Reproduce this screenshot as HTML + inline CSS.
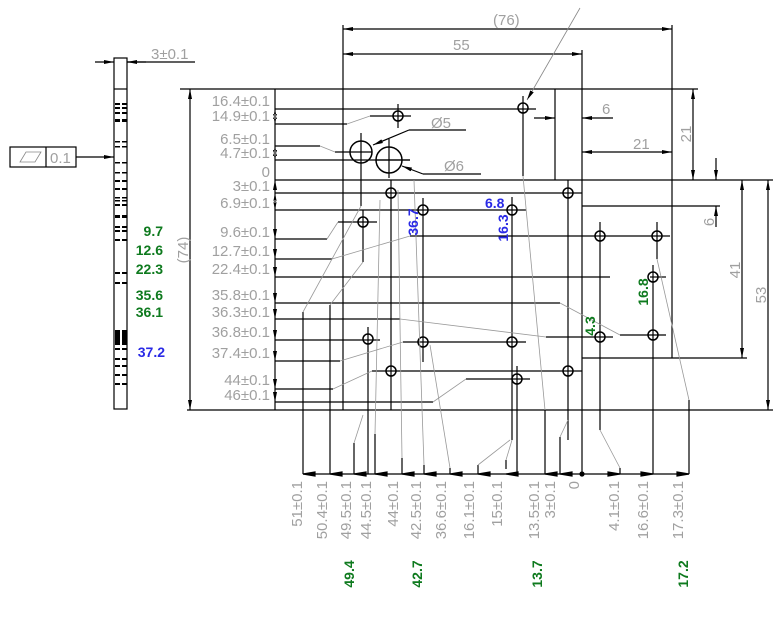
<!DOCTYPE html>
<html><head><meta charset="utf-8"><style>
html,body{margin:0;padding:0;background:#fff;width:783px;height:637px;overflow:hidden}
svg{display:block}
.g{fill:#a0a0a0;font-family:"Liberation Sans",sans-serif;font-size:15px}
.gr{fill:#0e7a1e;font-family:"Liberation Sans",sans-serif;font-size:14px;font-weight:bold}
.bl{fill:#2a2ae6;font-family:"Liberation Sans",sans-serif;font-size:14px;font-weight:bold}
</style></head><body>
<svg width="783" height="637" viewBox="0 0 783 637" xmlns="http://www.w3.org/2000/svg">
<defs>
<marker id="a" viewBox="0 0 10 4" refX="10" refY="2" markerWidth="10" markerHeight="4" orient="auto-start-reverse" markerUnits="userSpaceOnUse"><path d="M0,0L10,2L0,4z" fill="#000"/></marker>
</defs>
<g stroke="#000" stroke-width="1.2" fill="none">
<line x1="180" y1="89" x2="698" y2="89"/>
<line x1="275" y1="180" x2="773" y2="180"/>
<line x1="187" y1="410" x2="773" y2="410"/>
<line x1="343" y1="25" x2="343" y2="410"/>
<line x1="555" y1="89" x2="555" y2="180"/>
<line x1="582" y1="50" x2="582" y2="474"/>
<line x1="672" y1="25" x2="672" y2="358"/>
<line x1="582" y1="206" x2="720" y2="206"/>
<line x1="582" y1="358" x2="747" y2="358"/>
<line x1="343" y1="29" x2="672" y2="29" marker-start="url(#a)" marker-end="url(#a)"/>
<line x1="343" y1="54" x2="582" y2="54" marker-start="url(#a)" marker-end="url(#a)"/>
<line x1="582" y1="152" x2="672" y2="152" marker-start="url(#a)" marker-end="url(#a)"/>
<line x1="693" y1="89" x2="693" y2="180" marker-start="url(#a)" marker-end="url(#a)"/>
<line x1="534" y1="118" x2="555" y2="118" marker-end="url(#a)"/>
<line x1="613" y1="118" x2="582" y2="118" marker-end="url(#a)"/>
<line x1="716" y1="158" x2="716" y2="180" marker-end="url(#a)"/>
<line x1="716" y1="227" x2="716" y2="206" marker-end="url(#a)"/>
<line x1="742" y1="180" x2="742" y2="358" marker-start="url(#a)" marker-end="url(#a)"/>
<line x1="768" y1="180" x2="768" y2="410" marker-start="url(#a)" marker-end="url(#a)"/>
<line x1="190" y1="89" x2="190" y2="410" marker-start="url(#a)" marker-end="url(#a)"/>
<line x1="275" y1="89" x2="275" y2="410"/>
<path d="M275,109l-2,10h4zM275,124l-2,-10h4zM275,160l-2,-10h4zM275,180l-2,10h4zM275,193l-2,10h4zM275,210l-2,-10h4zM275,239l-2,-10h4zM275,259l-2,-10h4zM275,277l-2,-10h4zM275,303l-2,-10h4zM275,319l-2,-10h4zM275,340l-2,-10h4zM275,361l-2,-10h4zM275,389l-2,-10h4zM275,402l-2,-10h4zM275,146l-2,10h4z" fill="#000" stroke="none"/>
<line x1="275" y1="109" x2="536" y2="109"/>
<line x1="275" y1="124" x2="347" y2="124"/><line x1="370" y1="116" x2="411" y2="116"/>
<line x1="275" y1="146" x2="320" y2="146"/><line x1="335" y1="152" x2="372" y2="152"/>
<line x1="275" y1="160" x2="410" y2="160"/>
<line x1="275" y1="193" x2="582" y2="193"/>
<line x1="275" y1="210" x2="526" y2="210"/>
<line x1="275" y1="239" x2="327" y2="239"/><line x1="338" y1="222" x2="377" y2="222"/>
<line x1="275" y1="259" x2="332" y2="259"/><line x1="410" y1="236" x2="670" y2="236"/>
<line x1="275" y1="277" x2="610" y2="277"/><line x1="650" y1="277" x2="666" y2="277"/>
<line x1="275" y1="303" x2="560" y2="303"/><line x1="620" y1="335" x2="666" y2="335"/>
<line x1="275" y1="319" x2="400" y2="319"/><line x1="546" y1="337" x2="613" y2="337"/>
<line x1="275" y1="340" x2="380" y2="340"/>
<line x1="275" y1="361" x2="340" y2="361"/><line x1="403" y1="342" x2="526" y2="342"/>
<line x1="275" y1="389" x2="333" y2="389"/><line x1="372" y1="371" x2="582" y2="371"/>
<line x1="275" y1="402" x2="433" y2="402"/><line x1="466" y1="379" x2="530" y2="379"/>
<line x1="398" y1="104" x2="398" y2="128"/>
<line x1="523" y1="96" x2="523" y2="176"/>
<line x1="361" y1="133" x2="361" y2="206"/>
<line x1="389" y1="139" x2="389" y2="178"/>
<line x1="391" y1="180" x2="391" y2="410"/>
<line x1="568" y1="180" x2="568" y2="440"/>
<line x1="423" y1="198" x2="423" y2="362"/>
<line x1="512" y1="197" x2="512" y2="440"/>
<line x1="363" y1="210" x2="363" y2="262"/>
<line x1="600" y1="222" x2="600" y2="430"/>
<line x1="657" y1="222" x2="657" y2="259"/>
<line x1="653" y1="265" x2="653" y2="474"/>
<line x1="368" y1="327" x2="368" y2="474"/>
<line x1="517" y1="366" x2="517" y2="474"/>
<line x1="303" y1="312" x2="303" y2="474"/>
<line x1="330" y1="305" x2="330" y2="474"/>
<line x1="689" y1="400" x2="689" y2="474"/>
<line x1="545" y1="410" x2="545" y2="474"/>
<line x1="560" y1="437" x2="560" y2="474"/>
<line x1="620" y1="468" x2="620" y2="474"/>
<path d="M354,443v31M375,434v40M402,458v16M424,465v9M450,468v6M478,465v9M506,460v9"/>
<line x1="303" y1="474" x2="689" y2="474"/>
<path d="M303,474l12,-2v4zM330,474l12,-2v4zM354,474l12,-2v4zM375,474l12,-2v4zM402,474l12,-2v4zM424,474l12,-2v4zM450,474l12,-2v4zM478,474l12,-2v4zM506,474l12,-2v4zM545,474l12,-2v4zM560,474l12,-2v4zM620,474l-12,-2v4zM653,474l-12,-2v4zM689,474l-12,-2v4z" fill="#000"/>
<circle cx="582" cy="474" r="2" fill="#000"/>
<g stroke-width="1.5">
<circle cx="398" cy="116" r="5"/><circle cx="523" cy="108" r="5"/>
<circle cx="391" cy="193" r="5"/><circle cx="568" cy="193" r="5"/>
<circle cx="423" cy="210" r="5"/><circle cx="512" cy="210" r="5"/>
<circle cx="363" cy="222" r="5"/><circle cx="600" cy="236" r="5"/>
<circle cx="657" cy="236" r="5"/><circle cx="653" cy="277" r="5"/>
<circle cx="600" cy="337" r="5"/><circle cx="653" cy="335" r="5"/>
<circle cx="368" cy="339" r="5"/><circle cx="423" cy="342" r="5"/>
<circle cx="512" cy="342" r="5"/><circle cx="391" cy="371" r="5"/>
<circle cx="568" cy="371" r="5"/><circle cx="517" cy="379" r="5"/>
<circle cx="361" cy="152" r="11"/><circle cx="389" cy="160" r="13"/>
</g>
<line x1="376" y1="160" x2="410" y2="160"/>
<line x1="373" y1="145" x2="409" y2="130" marker-start="url(#a)"/>
<line x1="409" y1="130" x2="466" y2="130"/>
<line x1="402" y1="166" x2="423" y2="174" marker-start="url(#a)"/>
<line x1="423" y1="174" x2="481" y2="174"/>
<line x1="527" y1="100" x2="580" y2="8" stroke="#888" stroke-width="0.8" marker-start="url(#a)"/>
<rect x="114" y="58" width="13" height="351"/>
<line x1="114" y1="89" x2="127" y2="89"/>
<line x1="95" y1="62" x2="114" y2="62" marker-end="url(#a)"/>
<line x1="146" y1="62" x2="127" y2="62" marker-end="url(#a)"/>
<line x1="127" y1="62" x2="195" y2="62"/>
<rect x="10" y="147" width="66" height="20"/>
<line x1="46" y1="147" x2="46" y2="167"/>
<line x1="76" y1="157" x2="114" y2="157" marker-end="url(#a)"/>
</g>
<path d="M20,162l6,-10h15l-6,10z" fill="none" stroke="#888" stroke-width="0.8"/>
<g fill="#000">
<path d="M115,103h5v2h-5zM122,103h5v2h-5zM115,107h5v2h-5zM122,107h5v2h-5zM115,112h5v2h-5zM122,112h5v2h-5zM115,119h5v3h-5zM122,119h5v3h-5zM115,141h5v1.5h-5zM122,141h5v1.5h-5zM115,146h5v1.5h-5zM122,146h5v1.5h-5zM115,162h5v1.5h-5zM122,162h5v1.5h-5zM115,172h5v1.5h-5zM122,172h5v1.5h-5zM115,180h5v2h-5zM122,180h5v2h-5zM115,188h5v2h-5zM122,188h5v2h-5zM115,197h5v1.5h-5zM122,197h5v1.5h-5zM115,200h5v1.5h-5zM122,200h5v1.5h-5zM115,204h5v2h-5zM122,204h5v2h-5zM115,215h5v3h-5zM122,215h5v3h-5zM115,226h5v2h-5zM122,226h5v2h-5zM115,230h5v2h-5zM122,230h5v2h-5zM115,239h5v2h-5zM122,239h5v2h-5zM115,272h5v2h-5zM122,272h5v2h-5zM115,282h5v2h-5zM122,282h5v2h-5zM115,330h5v15h-5zM122,330h5v15h-5zM115,348h5v2h-5zM122,348h5v2h-5zM115,358h5v2h-5zM122,358h5v2h-5zM115,365h5v2h-5zM122,365h5v2h-5zM115,374h5v2h-5zM122,374h5v2h-5zM115,383h5v2h-5zM122,383h5v2h-5z"/>
</g>
<g stroke="#999" stroke-width="0.8" fill="none">
<path d="M347,124L370,116M320,146L335,152M327,239L338,222M332,259L410,236M303,312L361,206M330,305L363,262M560,303L620,335M400,319L546,337M340,361L403,342M333,389L372,371M433,402L466,379"/>
<path d="M354,443L363,415M375,434L380,200M402,458L398,190M424,465L414,180M450,468L430,345M478,465L510,440M506,460L512,440M545,410L523,176M560,437L568,420M620,468L600,430M689,400L657,259"/>
</g>
<g class="g" text-anchor="end">
<text x="270" y="106">16.4±0.1</text><text x="270" y="121">14.9±0.1</text>
<text x="270" y="144">6.5±0.1</text><text x="270" y="158">4.7±0.1</text>
<text x="270" y="177">0</text><text x="270" y="191">3±0.1</text>
<text x="270" y="208">6.9±0.1</text><text x="270" y="237">9.6±0.1</text>
<text x="270" y="256">12.7±0.1</text><text x="270" y="274">22.4±0.1</text>
<text x="270" y="300">35.8±0.1</text><text x="270" y="317">36.3±0.1</text>
<text x="270" y="337">36.8±0.1</text><text x="270" y="358">37.4±0.1</text>
<text x="270" y="385">44±0.1</text><text x="270" y="400">46±0.1</text>
</g>
<g class="g">
<text x="493" y="25">(76)</text><text x="453" y="50">55</text>
<text x="633" y="149">21</text><text x="602" y="114">6</text>
<text x="431" y="128">Ø5</text><text x="444" y="171">Ø6</text>
<text x="151" y="59">3±0.1</text><text x="50" y="163">0.1</text>
<text transform="translate(691,134) rotate(-90)" text-anchor="middle">21</text>
<text transform="translate(714,222) rotate(-90)" text-anchor="middle">6</text>
<text transform="translate(740,270) rotate(-90)" text-anchor="middle">41</text>
<text transform="translate(766,295) rotate(-90)" text-anchor="middle">53</text>
<text transform="translate(188,250) rotate(-90)" text-anchor="middle">(74)</text>
</g>
<g class="g" text-anchor="end">
<text transform="translate(302,481) rotate(-90)">51±0.1</text>
<text transform="translate(327,481) rotate(-90)">50.4±0.1</text>
<text transform="translate(351,481) rotate(-90)">49.5±0.1</text>
<text transform="translate(371,481) rotate(-90)">44.5±0.1</text>
<text transform="translate(398,481) rotate(-90)">44±0.1</text>
<text transform="translate(421,481) rotate(-90)">42.5±0.1</text>
<text transform="translate(446,481) rotate(-90)">36.6±0.1</text>
<text transform="translate(474,481) rotate(-90)">16.1±0.1</text>
<text transform="translate(502,481) rotate(-90)">15±0.1</text>
<text transform="translate(539,481) rotate(-90)">13.5±0.1</text>
<text transform="translate(555,481) rotate(-90)">3±0.1</text>
<text transform="translate(579,481) rotate(-90)">0</text>
<text transform="translate(619,481) rotate(-90)">4.1±0.1</text>
<text transform="translate(648,481) rotate(-90)">16.6±0.1</text>
<text transform="translate(683,481) rotate(-90)">17.3±0.1</text>
</g>
<g class="gr" text-anchor="middle">
<text transform="translate(354,574) rotate(-90)">49.4</text>
<text transform="translate(422,574) rotate(-90)">42.7</text>
<text transform="translate(542,574) rotate(-90)">13.7</text>
<text transform="translate(688,574) rotate(-90)">17.2</text>
<text transform="translate(648,292) rotate(-90)">16.8</text>
<text transform="translate(595,326) rotate(-90)">4.3</text>
</g>
<g class="gr" text-anchor="end">
<text x="163" y="236">9.7</text><text x="163" y="255">12.6</text>
<text x="163" y="274">22.3</text><text x="163" y="300">35.6</text>
<text x="163" y="317">36.1</text>
</g>
<text class="bl" x="165" y="357" text-anchor="end">37.2</text>
<text class="bl" x="485" y="208">6.8</text>
<text class="bl" transform="translate(418,222) rotate(-90)" text-anchor="middle">36.7</text>
<text class="bl" transform="translate(508,228) rotate(-90)" text-anchor="middle">16.3</text>
</svg>
</body></html>
